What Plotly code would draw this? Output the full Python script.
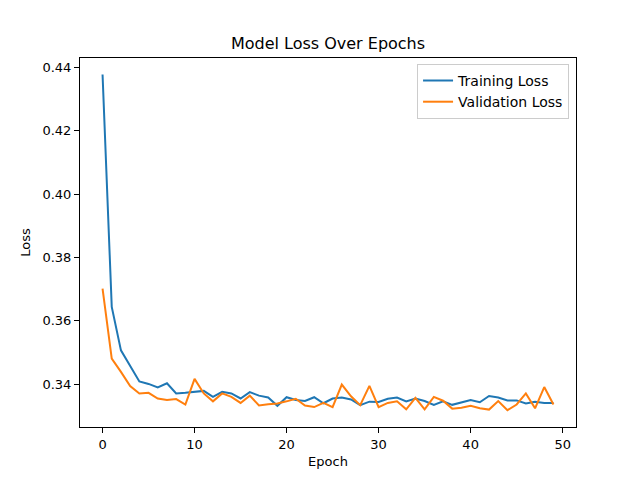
import plotly.graph_objects as go

epochs = list(range(50))
train_loss = [0.4378, 0.3644, 0.3507, 0.3458, 0.3409, 0.3401, 0.3390, 0.3403, 0.3371, 0.3373,
              0.3375, 0.3379, 0.3360, 0.3376, 0.3371, 0.3355, 0.3375, 0.3364, 0.3358, 0.3332,
              0.3359, 0.3350, 0.3347, 0.3359, 0.3340, 0.3355, 0.3358, 0.3352, 0.3334, 0.3345,
              0.3344, 0.3354, 0.3358, 0.3346, 0.3355, 0.3347, 0.3335, 0.3346, 0.3335, 0.3343,
              0.3350, 0.3343, 0.3363, 0.3358, 0.3349, 0.3349, 0.3339, 0.3345, 0.3341, 0.3341]
val_loss = [0.3702, 0.3481, 0.3439, 0.3394, 0.3371, 0.3373, 0.3355, 0.3350, 0.3353, 0.3336,
            0.3417, 0.3371, 0.3346, 0.3371, 0.3360, 0.3341, 0.3364, 0.3333, 0.3337, 0.3339,
            0.3346, 0.3354, 0.3333, 0.3328, 0.3341, 0.3328, 0.3399, 0.3362, 0.3334, 0.3395,
            0.3328, 0.3341, 0.3346, 0.3321, 0.3357, 0.3321, 0.3360, 0.3348, 0.3323, 0.3326,
            0.3332, 0.3324, 0.3320, 0.3347, 0.3318, 0.3336, 0.3371, 0.3324, 0.3391, 0.3336]
x_ticks = [0, 10, 20, 30, 40, 50]
y_ticks = [0.34, 0.36, 0.38, 0.40, 0.42, 0.44]

fig = go.Figure()
fig.add_trace(go.Scatter(x=epochs, y=train_loss, mode="lines", name="Training Loss",
                         line=dict(color="#1f77b4", width=2)))
fig.add_trace(go.Scatter(x=epochs, y=val_loss, mode="lines", name="Validation Loss",
                         line=dict(color="#ff7f0e", width=2)))

axis_common = dict(showline=True, linecolor="black", linewidth=1, mirror=True,
                   ticks="outside", ticklen=5, tickwidth=1, tickcolor="black",
                   showgrid=False, zeroline=False,
                   tickfont=dict(size=13, color="black"))

fig.update_layout(
    width=640, height=480,
    margin=dict(l=72, r=72, t=50, b=61),
    paper_bgcolor="white", plot_bgcolor="white",
    font=dict(family="DejaVu Sans", color="black"),
    title=dict(text="Model Loss Over Epochs", x=0.5, xanchor="center",
               y=1 - 35 / 480, yanchor="middle", font=dict(size=16)),
    xaxis=dict(range=[-2.45, 51.45], tickvals=x_ticks,
               title=dict(text="Epoch", font=dict(size=13), standoff=6), **axis_common),
    yaxis=dict(range=[0.3265, 0.4430], tickvals=y_ticks, tickformat=".2f",
               title=dict(text="Loss", font=dict(size=13), standoff=8), **axis_common),
    legend=dict(x=0.986, y=0.984, xanchor="right", yanchor="top",
                bgcolor="rgba(255,255,255,0.8)", bordercolor="#cccccc", borderwidth=1,
                font=dict(size=14), itemwidth=30, tracegroupgap=0),
    showlegend=True,
)

fig.write_html("out.html")
